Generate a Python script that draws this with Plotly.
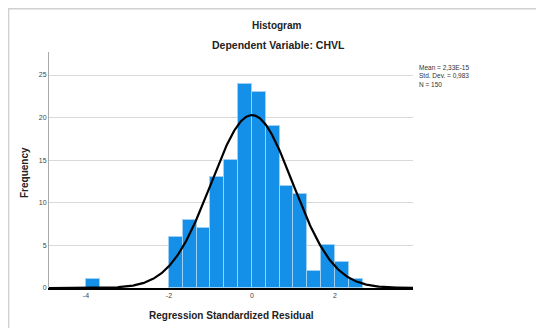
import numpy as np
import plotly.graph_objects as go

bin_left = [-4.0, -2.0, -5/3, -4/3, -1.0, -2/3, -1/3, 0.0, 1/3, 2/3, 1.0, 4/3, 5/3, 2.0, 7/3]
counts = [1, 6, 8, 7, 13, 15, 24, 23, 19, 12, 11, 2, 5, 3, 1]
bin_width = 1/3
MEAN = 2.33e-15
SD = 0.983
N = 150
stats_lines = ["Mean = 2,33E-15", "Std. Dev. = 0,983", "N = 150"]
x_ticks = [-4, -2, 0, 2]
y_ticks = [0, 5, 10, 15, 20, 25]

X_RANGE = [-4.89, 3.88]
Y_RANGE = [0, 27.7]

centers = [b + bin_width / 2 for b in bin_left]
xc = np.linspace(X_RANGE[0], X_RANGE[1], 400)
yc = N * bin_width * np.exp(-0.5 * ((xc - MEAN) / SD) ** 2) / (SD * np.sqrt(2 * np.pi))

fig = go.Figure()
fig.add_trace(go.Bar(x=centers, y=counts, width=bin_width,
                     marker=dict(color="#1590e8", line=dict(color="#9fcff3", width=1))))
fig.add_trace(go.Scatter(x=xc, y=yc, mode="lines", line=dict(color="black", width=2.2)))

# page has an 8px body margin; work in page coordinates and convert
OFF = 8
W, H = 544 - OFF, 328 - OFF
L, T = 49 - OFF, 52 - OFF
R = W - (413 - OFF)
B = H - (288 - OFF)
pw, ph = W - L - R, H - T - B
def px(x): return (x - OFF - L) / pw
def py(y): return (H - B - (y - OFF)) / ph

fig.update_layout(
    width=W, height=H, margin=dict(l=L, r=R, t=T, b=B),
    paper_bgcolor="white", plot_bgcolor="white", showlegend=False,
    bargap=0,
    font=dict(family="Liberation Sans, Arial", color="#333"),
    xaxis=dict(range=X_RANGE, tickvals=x_ticks, ticktext=[str(v) for v in x_ticks],
               showgrid=False, zeroline=False, showline=True, linecolor="black", linewidth=2,
               ticks="", tickfont=dict(size=7, color="#444")),
    yaxis=dict(range=Y_RANGE, tickvals=y_ticks, showgrid=True, gridcolor="#d9d9d9", gridwidth=1,
               zeroline=False, showline=True, linecolor="#aaaaaa", linewidth=1,
               ticks="", tickfont=dict(size=7, color="#444")),
    shapes=[dict(type="rect", xref="paper", yref="paper",
                 x0=px(8.6), x1=px(560), y0=py(340), y1=py(8.8),
                 line=dict(color="#d0d0d0", width=1.5), layer="below")],
    annotations=[
        dict(text="<b>Histogram</b>", x=px(277), y=py(25), xref="paper", yref="paper",
             showarrow=False, font=dict(size=10, color="#222"), xanchor="center", yanchor="middle"),
        dict(text="<b>Dependent Variable: CHVL</b>", x=px(278), y=py(45), xref="paper", yref="paper",
             showarrow=False, font=dict(size=10.5, color="#222"), xanchor="center", yanchor="middle"),
        dict(text="<b>Frequency</b>", x=px(24), y=py(172), xref="paper", yref="paper", textangle=-90,
             showarrow=False, font=dict(size=10, color="#222"), xanchor="center", yanchor="middle"),
        dict(text="<b>Regression Standardized Residual</b>", x=px(231), y=py(315), xref="paper", yref="paper",
             showarrow=False, font=dict(size=10, color="#222"), xanchor="center", yanchor="middle"),
        dict(text="<br>".join(stats_lines), x=px(417), y=py(62), xref="paper", yref="paper",
             showarrow=False, align="left", font=dict(size=6.5, color="#333"),
             xanchor="left", yanchor="top"),
    ],
)
fig.write_html("out.html")
